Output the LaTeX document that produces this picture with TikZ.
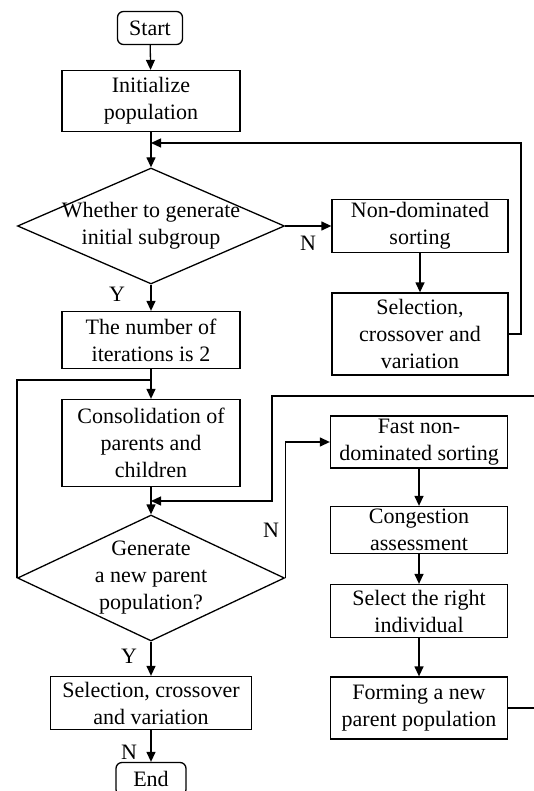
\documentclass[tikz,border=0pt]{standalone}
\usepackage{fontspec}
\setmainfont{Liberation Serif}
\usetikzlibrary{shapes.geometric,arrows.meta}

\tikzset{
  txt/.style={font=\fontsize{22}{27}\selectfont},
  box/.style={rectangle, draw, line width=1.3pt, align=center, inner sep=0pt, txt},
  term/.style={box, rounded corners=6pt},
  decision/.style={diamond, draw, line width=1.3pt, align=center, inner sep=-8pt, aspect=2.3, txt},
  line/.style={line width=1.3pt},
  arrow/.style={line, -{Triangle[length=10pt,width=9pt]}},
  yn/.style={txt, inner sep=0pt}
}

\begin{document}
\begin{tikzpicture}[x=1pt, y=-1pt]
	\useasboundingbox (0,0) rectangle (534,791);
	
	% Left column
	\node[term, minimum width=65pt, minimum height=33pt] (start) at (150,28) {Start};
	\node[box, minimum width=178pt, minimum height=61pt] (init) at (151,101) {Initialize\\population};
	\node[decision, minimum width=267pt, minimum height=116pt] (d1) at (151,226) {Whether to generate\\initial subgroup};
	\node[box, minimum width=178pt, minimum height=57pt] (iter) at (151,340) {The number of\\iterations is 2};
	\node[box, minimum width=178pt, minimum height=87pt] (cons) at (151,443) {Consolidation of\\parents and\\children};
	\node[decision, minimum width=267pt, minimum height=126pt] (d2) at (151,578) {Generate\\a new parent\\population?};
	\node[box, minimum width=201pt, minimum height=53pt] (sel2) at (151,703) {Selection, crossover\\and variation};
	\node[term, minimum width=70pt, minimum height=33pt] (end) at (151,779) {End};
	
	% Right column
	\node[box, minimum width=176pt, minimum height=53pt] (nds) at (420,226) {Non-dominated\\sorting};
	\node[box, minimum width=176pt, minimum height=82pt] (sel1) at (420,334) {Selection,\\crossover and\\variation};
	\node[box, minimum width=177pt, minimum height=52pt] (fast) at (419,442) {Fast non-\\dominated sorting};
	\node[box, minimum width=177pt, minimum height=47pt] (cong) at (419,530) {Congestion\\assessment};
	\node[box, minimum width=177pt, minimum height=53pt] (pick) at (419,611) {Select the right\\individual};
	\node[box, minimum width=177pt, minimum height=62pt] (form) at (419,708) {Forming a new\\parent population};
	
	% Junctions
	\coordinate (j1) at (151,143);
	\coordinate (r1) at (521,143);
	\coordinate (j2) at (151,380);
	\coordinate (j3) at (151,501);
	\coordinate (r3) at (540,396);
	\coordinate (k3) at (272,396);
	
	% Main flow
	\draw[arrow] (start) -- (init);
	\draw[arrow] (init) -- (d1);
	\draw[arrow] (d1.east) -- (nds.west);
	\draw[arrow] (nds) -- (sel1);
	\draw[arrow] (sel1.east) -| (r1) -- (j1);
	\draw[arrow] (d1.south) -- (iter.north);
	\draw[arrow] (iter) -- (cons);
	\draw[line] (d2.west) |- (j2);
	\draw[arrow] (cons.south) -- (d2.north);
	\draw[arrow] (d2.east) |- (fast.west);
	\draw[arrow] (fast) -- (cong);
	\draw[arrow] (cong) -- (pick);
	\draw[arrow] (pick) -- (form);
	\draw[arrow] (form.east) -| (r3) -- (k3) |- (j3);
	\draw[arrow] (d2.south) -- (sel2.north);
	\draw[arrow] (sel2) -- (end);
	
	% Branch labels
	\node[yn] (n1) at (308,243) {N};
	\node[yn] (y1) at (117,294) {Y};
	\node[yn] (n2) at (271,530) {N};
	\node[yn] (y2) at (129,656) {Y};
	\node[yn] (n3) at (129,752) {N};
\end{tikzpicture}
\end{document}
